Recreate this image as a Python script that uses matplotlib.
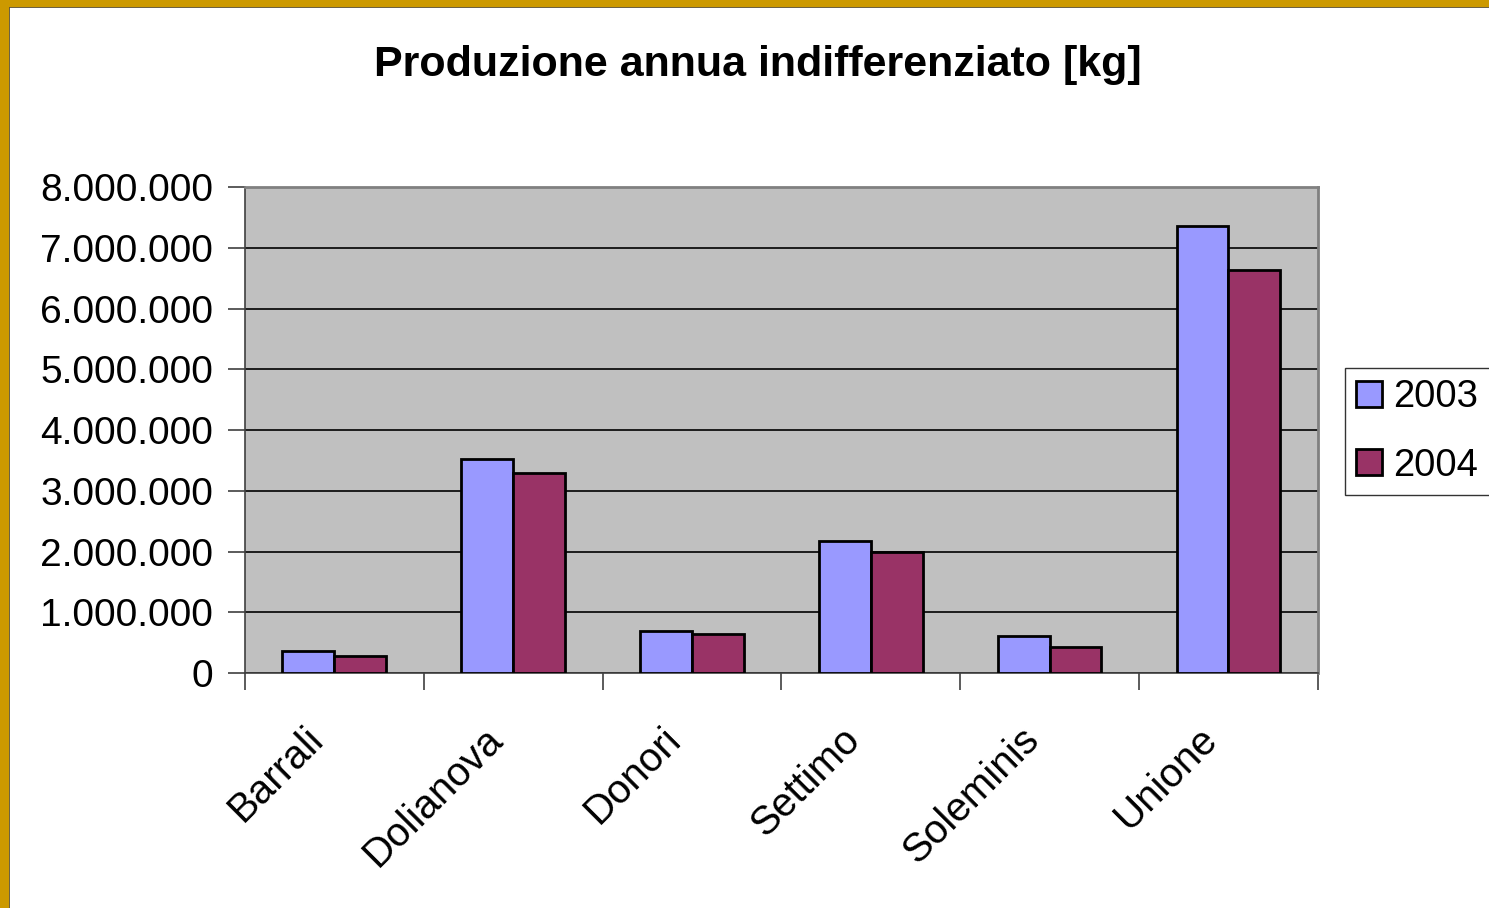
import numpy as np
import matplotlib
matplotlib.use("Agg")
import matplotlib.pyplot as plt
import matplotlib.transforms as mtrans
from matplotlib.patches import Rectangle
from matplotlib.ticker import FuncFormatter

plt.rcParams['font.family'] = ['Liberation Sans', 'DejaVu Sans']

comuni = ['Barrali', 'Dolianova', 'Donori', 'Settimo', 'Soleminis', 'Unione']
anno_2003 = [370000, 3520000, 690000, 2170000, 610000, 7360000]
anno_2004 = [280000, 3290000, 650000, 1990000, 430000, 6640000]

fig = plt.figure(figsize=(14.89, 9.08), dpi=100)
ax = fig.add_axes([0.1645, 0.2588, 0.7205, 0.5352])
ax.set_facecolor('#C0C0C0')

x = np.arange(len(comuni))
w = 0.29
ax.bar(x - w/2, anno_2003, w, color='#9999FF', edgecolor='black', linewidth=2, label='2003', zorder=3)
ax.bar(x + w/2, anno_2004, w, color='#993366', edgecolor='black', linewidth=2, label='2004', zorder=3)

ax.set_xlim(-0.5, len(comuni) - 0.5)
ax.set_ylim(0, 8000000)
ax.set_yticks(np.arange(0, 8000001, 1000000))
ax.yaxis.set_major_formatter(FuncFormatter(lambda v, p: f"{int(v):,}".replace(',', '.')))
ax.grid(axis='y', color='black', linewidth=1.2, zorder=1)

# ticks between categories, labels at centres
ax.set_xticks(np.arange(-0.5, len(comuni)), minor=False)
ax.set_xticklabels([])
ax.set_xticks(x, minor=True)
ax.set_xticklabels(comuni, minor=True, rotation=45, ha='right', va='top',
                   rotation_mode='anchor', fontsize=29)
ax.tick_params(axis='x', which='minor', length=0, pad=28)
ax.tick_params(axis='x', which='major', length=12, width=1.2, color='#404040')
ax.tick_params(axis='y', length=12, width=1.2, labelsize=28, pad=11, color='#404040')
shift = mtrans.ScaledTranslation(-30/100, -8/100, fig.dpi_scale_trans)
for lab in ax.get_xticklabels(minor=True):
    lab.set_transform(lab.get_transform() + shift)

for s in ['top', 'right']:
    ax.spines[s].set_color('#808080')
    ax.spines[s].set_linewidth(2)
ax.spines['left'].set_color('#404040')
ax.spines['bottom'].set_color('#404040')
ax.spines['left'].set_linewidth(1.2)
ax.spines['bottom'].set_linewidth(1.2)

fig.text(0.509, 0.928, 'Produzione annua indifferenziato [kg]', ha='center', va='center',
         fontsize=31, fontweight='bold')

leg = ax.legend(loc='center left', bbox_to_anchor=(1.025, 0.497), fontsize=27.5, frameon=True,
                fancybox=False, edgecolor='black', handlelength=0.68, handleheight=0.68,
                handletextpad=0.3, borderpad=0.3, labelspacing=0.85, borderaxespad=0)
leg.get_frame().set_linewidth(1)

# gold border on left and top
fig.patches.append(Rectangle((0, 0), 8/1489, 1, transform=fig.transFigure, color='#CC9900', zorder=10))
fig.patches.append(Rectangle((0, 1 - 6/908), 1, 6/908, transform=fig.transFigure, color='#CC9900', zorder=10))
fig.add_artist(plt.Line2D([9/1489, 9/1489], [0, 1 - 6/908], transform=fig.transFigure, color='#333333', lw=1.2))
fig.add_artist(plt.Line2D([9/1489, 1], [1 - 7/908, 1 - 7/908], transform=fig.transFigure, color='#333333', lw=1.2))

fig.savefig('out.png', dpi=100)
